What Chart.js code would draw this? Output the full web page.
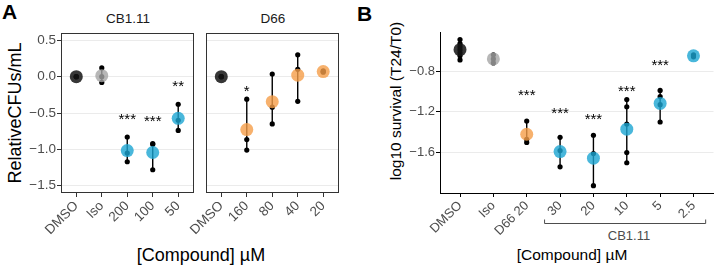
<!DOCTYPE html>
<html>
<head>
<meta charset="utf-8">
<script src="https://cdn.jsdelivr.net/npm/chart.js@4.4.1/dist/chart.umd.min.js"></script>
<style>
  body { margin: 0; width: 720px; height: 268px; position: relative; background: #fff; overflow: hidden;
         font-family: "Liberation Sans", Arial, sans-serif; }
  canvas { position: absolute; top: 0; }
  .lbl { position: absolute; white-space: nowrap; color: #000; line-height: 1; }
  .rot { transform: translate(-50%, -50%) rotate(-90deg); }
  .ctr { transform: translate(-50%, -50%); }
</style>
</head>
<body>
<div class="lbl" style="left:2px;top:1px;font-size:21px;font-weight:bold">A</div>
<div class="lbl" style="left:357px;top:3px;font-size:21px;font-weight:bold">B</div>
<div class="lbl ctr" style="left:128px;top:19px;font-size:13.5px;color:#1a1a1a">CB1.11</div>
<div class="lbl ctr" style="left:273px;top:19px;font-size:13.5px;color:#1a1a1a">D66</div>
<div class="lbl rot" style="left:15px;top:113px;font-size:18px">RelativeCFUs/mL</div>
<div class="lbl ctr" style="left:201px;top:255px;font-size:18px">[Compound] µM</div>
<div class="lbl rot" style="left:396px;top:101px;font-size:15.5px">log10 survival (T24/T0)</div>
<div class="lbl ctr" style="left:572px;top:255px;font-size:15.5px">[Compound] µM</div>
<div class="lbl ctr" style="left:629px;top:235px;font-size:13px;color:#4d4d4d">CB1.11</div>

<canvas id="a1" width="200" height="268" style="left:0"></canvas>
<canvas id="a2" width="195" height="268" style="left:150px"></canvas>
<canvas id="b" width="350" height="268" style="left:370px"></canvas>

<script>
// panel A, left facet (CB1.11)
const catsA1 = ['DMSO', 'Iso', '200', '100', '50'];
const groupA1 = ['dmso', 'iso', 'cb', 'cb', 'cb'];
const valsA1 = [[0, 0, 0], [0.12, 0, -0.08], [-0.83, -1.05, -1.17], [-0.92, -0.93, -1.28], [-0.38, -0.6, -0.74]];
const starsA1 = ['', '', '***', '***', '**'];
const starYA1 = [null, null, -0.54, -0.555, -0.08];

// panel A, right facet (D66)
const catsA2 = ['DMSO', '160', '80', '40', '20'];
const groupA2 = ['dmso', 'd66', 'd66', 'd66', 'd66'];
const valsA2 = [[0, 0, 0], [-0.31, -0.865, -1.01], [0.036, -0.42, -0.65], [0.3, 0.1, -0.34], [0.08, 0.07, 0.06]];
const starsA2 = ['', '*', '', '', ''];
const starYA2 = [null, -0.15, null, null, null];

const ticksA = [-1.5, -1, -0.5, 0, 0.5];

// panel B
const catsB = ['DMSO', 'Iso', 'D66 20', '30', '20', '10', '5', '2.5'];
const groupB = ['dmso', 'iso', 'd66', 'cb', 'cb', 'cb', 'cb', 'cb'];
const valsB = [
  [-0.49, -0.53, -0.56, -0.59, -0.62, -0.65, -0.69],
  [-0.64, -0.68, -0.72],
  [-1.29, -1.47, -1.5],
  [-1.45, -1.58, -1.74],
  [-1.43, -1.61, -1.925],
  [-1.08, -1.15, -1.32, -1.6, -1.7],
  [-0.99, -1.05, -1.13, -1.3],
  [-0.64, -0.65, -0.66]
];
const starsB = ['', '', '***', '***', '***', '***', '***', ''];
const starYB = [null, null, -1.0, -1.18, -1.236, -0.96, -0.705, null];

const ticksB = [-1.6, -1.2, -0.8];

const colours = {
  dmso: 'rgba(20,20,20,0.85)',
  iso: 'rgba(165,165,165,0.8)',
  cb: 'rgba(28,165,210,0.8)',
  d66: 'rgba(245,158,72,0.8)'
};

const mean = a => a.reduce((s, v) => s + v, 0) / a.length;
const fmt = v => v.toFixed(1).replace('-', '\u2212');

// stars, box round the facet, bracket under the x labels
const extras = {
  id: 'extras',
  afterDatasetsDraw(chart, args, o) {
    const { ctx, chartArea: ca, scales } = chart;
    ctx.save();
    ctx.fillStyle = '#000';
    ctx.font = '15px "Liberation Sans", Arial, sans-serif';
    ctx.textAlign = 'center';
    ctx.textBaseline = 'alphabetic';
    o.stars.forEach((s, i) => {
      if (!s) return;
      ctx.fillText(s, scales.x.getPixelForValue(i), scales.y.getPixelForValue(o.starY[i]) + 8.5);
    });
    if (o.box) {
      ctx.strokeStyle = '#333';
      ctx.lineWidth = 1;
      ctx.strokeRect(Math.round(ca.left) + 0.5, Math.round(ca.top) + 0.5,
        Math.round(ca.width) - 1, Math.round(ca.height) - 1);
    }
    if (o.bracket) {
      const x = scales.x;
      const step = x.getPixelForValue(1) - x.getPixelForValue(0);
      const x0 = x.getPixelForValue(o.bracket[0]) - 0.48 * step;
      const x1 = x.getPixelForValue(o.bracket[1]) + 0.38 * step;
      const y = 223.5;
      ctx.strokeStyle = '#4d4d4d';
      ctx.beginPath();
      ctx.moveTo(x0 + 0.5, y - 4);
      ctx.lineTo(x0 + 0.5, y);
      ctx.lineTo(x1 - 0.5, y);
      ctx.lineTo(x1 - 0.5, y - 4);
      ctx.stroke();
    }
    ctx.restore();
  }
};

function panel(id, cats, groups, vals, stars, starY, cfg) {
  const means = cats.map((c, i) => ({ x: i, y: mean(vals[i]) }));
  const dots = [];
  const bars = [];
  vals.forEach((arr, i) => {
    arr.forEach(v => dots.push({ x: i, y: v }));
    bars.push({ x: i, y: Math.min(...arr) }, { x: i, y: Math.max(...arr) }, { x: i, y: null });
  });

  new Chart(document.getElementById(id), {
    type: 'scatter',
    data: {
      datasets: [
        { data: means, pointRadius: 6.5, pointBorderWidth: 0, order: 0,
          pointBackgroundColor: groups.map(g => colours[g]) },
        { data: dots, pointRadius: 2.6, pointBorderWidth: 0, pointBackgroundColor: '#000', order: 1 },
        { data: bars, showLine: true, spanGaps: false, pointRadius: 0, borderColor: '#000',
          borderWidth: 1.4, order: 2 }
      ]
    },
    options: {
      responsive: false,
      animation: false,
      events: [],
      layout: { padding: cfg.padding },
      plugins: {
        legend: { display: false },
        tooltip: { enabled: false },
        extras: { stars, starY, box: cfg.box, bracket: cfg.bracket }
      },
      scales: {
        x: {
          type: 'linear',
          min: -0.6,
          max: cats.length - 0.4,
          afterBuildTicks: ax => { ax.ticks = cats.map((c, i) => ({ value: i })); },
          afterFit: ax => { ax.height = 75; ax.paddingLeft = 0; ax.paddingRight = 0; },
          ticks: {
            callback: v => cats[v],
            minRotation: 45, maxRotation: 45, autoSkip: false, padding: 1,
            color: '#4d4d4d', font: { size: cfg.tickSize, family: '"Liberation Sans", Arial, sans-serif' }
          },
          grid: { drawOnChartArea: false, tickLength: 4, tickColor: cfg.axisColour, lineWidth: 1 },
          border: { display: cfg.axisLine, color: '#000', width: 1 }
        },
        y: {
          min: cfg.yMin,
          max: cfg.yMax,
          afterBuildTicks: ax => { ax.ticks = cfg.yTicks.map(v => ({ value: v })); },
          afterFit: ax => { ax.width = cfg.yWidth; ax.paddingTop = 0; ax.paddingBottom = 0; },
          ticks: {
            display: cfg.yLabels,
            callback: v => fmt(v), padding: 1,
            color: '#4d4d4d', font: { size: cfg.tickSize, family: '"Liberation Sans", Arial, sans-serif' }
          },
          grid: { color: '#ebebeb', lineWidth: 1, tickLength: cfg.yLabels ? 4 : 0,
            drawTicks: cfg.yLabels, tickColor: cfg.axisColour },
          border: { display: cfg.axisLine, color: '#000', width: 1 }
        }
      }
    },
    plugins: [extras]
  });
}

panel('a1', catsA1, groupA1, valsA1, starsA1, starYA1, {
  padding: { top: 33, right: 4, left: 0, bottom: 0 }, yWidth: 61, yLabels: true,
  yMin: -1.6, yMax: 0.6, yTicks: ticksA, tickSize: 13.5, box: true, axisLine: false, axisColour: '#333'
});
panel('a2', catsA2, groupA2, valsA2, starsA2, starYA2, {
  padding: { top: 33, right: 5, left: 0, bottom: 0 }, yWidth: 56, yLabels: false,
  yMin: -1.6, yMax: 0.6, yTicks: ticksA, tickSize: 13.5, box: true, axisLine: false, axisColour: '#333'
});
panel('b', catsB, groupB, valsB, starsB, starYB, {
  padding: { top: 32, right: 1, left: 0, bottom: 0 }, yWidth: 70, yLabels: true,
  yMin: -1.997, yMax: -0.416, yTicks: ticksB, tickSize: 13, box: false, axisLine: true, axisColour: '#000',
  bracket: [3, 7]
});
</script>
</body>
</html>
